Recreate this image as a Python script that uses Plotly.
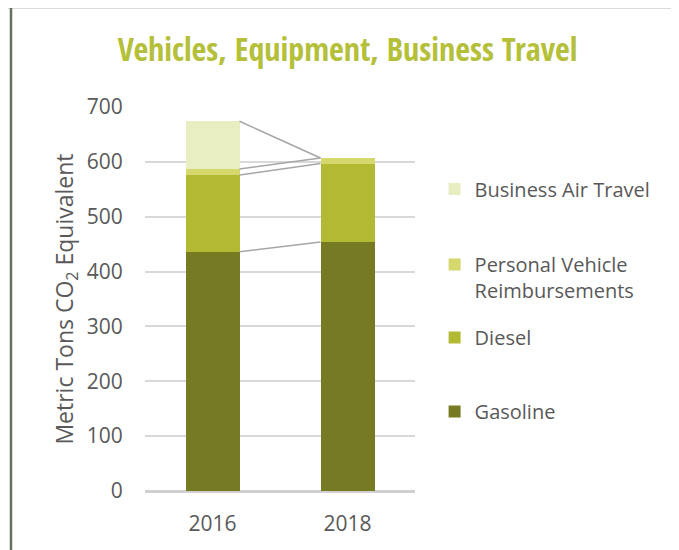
import plotly.graph_objects as go

years = ["2016", "2018"]
series_names = ["Gasoline", "Diesel", "Personal Vehicle<br>Reimbursements", "Business Air Travel"]
gasoline = [436, 454]
diesel = [140, 143]
personal = [11, 10]
air_travel = [87, 0]
colors = ["#767a22", "#b2b933", "#d4d86d", "#e9edc2"]

y_ticks = [0, 100, 200, 300, 400, 500, 600, 700]

values = [gasoline, diesel, personal, air_travel]
xpos = list(range(len(years)))
bar_width = 0.4

# legend item vertical centres, in paper units (one legend per series)
legend_ids = ["legend", "legend2", "legend3", "legend4"]
legend_y = [0.2070, 0.3997, 0.5560, 0.7864]

fig = go.Figure()

cum = [0] * len(years)
for vals in values:
    cum = [c + v for c, v in zip(cum, vals)]
    lx, ly = [], []
    for i in range(len(years) - 1):
        lx += [xpos[i] + bar_width / 2, xpos[i + 1] - bar_width / 2, None]
        ly += [cum[i], cum[i + 1], None]
    fig.add_trace(go.Scatter(x=lx, y=ly, mode="lines",
                             line=dict(color="#a6a6a6", width=1.5),
                             showlegend=False, hoverinfo="skip"))

for i, (name, vals) in enumerate(zip(series_names, values)):
    fig.add_trace(go.Bar(x=xpos, y=vals, name=name, width=bar_width,
                         marker=dict(color=colors[i], line=dict(width=0)),
                         legend=legend_ids[i]))

legend_common = dict(x=1.0726, xanchor="left", yanchor="middle", valign="top",
                     font=dict(size=20), bgcolor="rgba(0,0,0,0)")

fig.update_layout(
    barmode="stack",
    width=679, height=550,
    margin=dict(l=137, r=272, t=99, b=67),
    paper_bgcolor="white", plot_bgcolor="white",
    font=dict(family="Open Sans, sans-serif", color="#595959", size=20),
    title=dict(text="Vehicles, Equipment, Business Travel",
               x=0.5, xanchor="center", y=0.924, yanchor="middle",
               font=dict(family="Open Sans Condensed, DejaVu Sans Condensed, sans-serif",
                         size=32, weight=700, color="#b5c03a")),
    xaxis=dict(range=[-0.5, 1.5], tickmode="array", tickvals=xpos, ticktext=years,
               showgrid=False, zeroline=False, showline=False,
               ticks="outside", ticklen=14, tickcolor="rgba(0,0,0,0)",
               tickfont=dict(size=21)),
    yaxis=dict(range=[0, 700], tickmode="array", tickvals=y_ticks,
               showgrid=True, gridcolor="#d9d9d9", gridwidth=1.5,
               zeroline=True, zerolinecolor="#d0d0d0", zerolinewidth=3,
               ticks="outside", ticklen=17, tickcolor="rgba(0,0,0,0)",
               tickfont=dict(size=21),
               title=dict(text="Metric Tons CO<sub>2</sub> Equivalent",
                          font=dict(size=23), standoff=6)),
    legend=dict(y=legend_y[0], **legend_common),
    legend2=dict(y=legend_y[1], **legend_common),
    legend3=dict(y=legend_y[2], **legend_common),
    legend4=dict(y=legend_y[3], **legend_common),
    shapes=[
        dict(type="line", xref="paper", yref="paper", x0=-0.6, x1=2.0,
             y0=1 + (107 - 7) / 384, y1=1 + (107 - 7) / 384,
             line=dict(color="#66705f", width=2.5)),
        dict(type="line", xref="paper", yref="paper",
             x0=-(145 - 11) / 270, x1=-(145 - 11) / 270,
             y0=-0.5, y1=1 + (107 - 7) / 384,
             line=dict(color="#66705f", width=2.5)),
    ],
)

fig.write_html("out.html")
